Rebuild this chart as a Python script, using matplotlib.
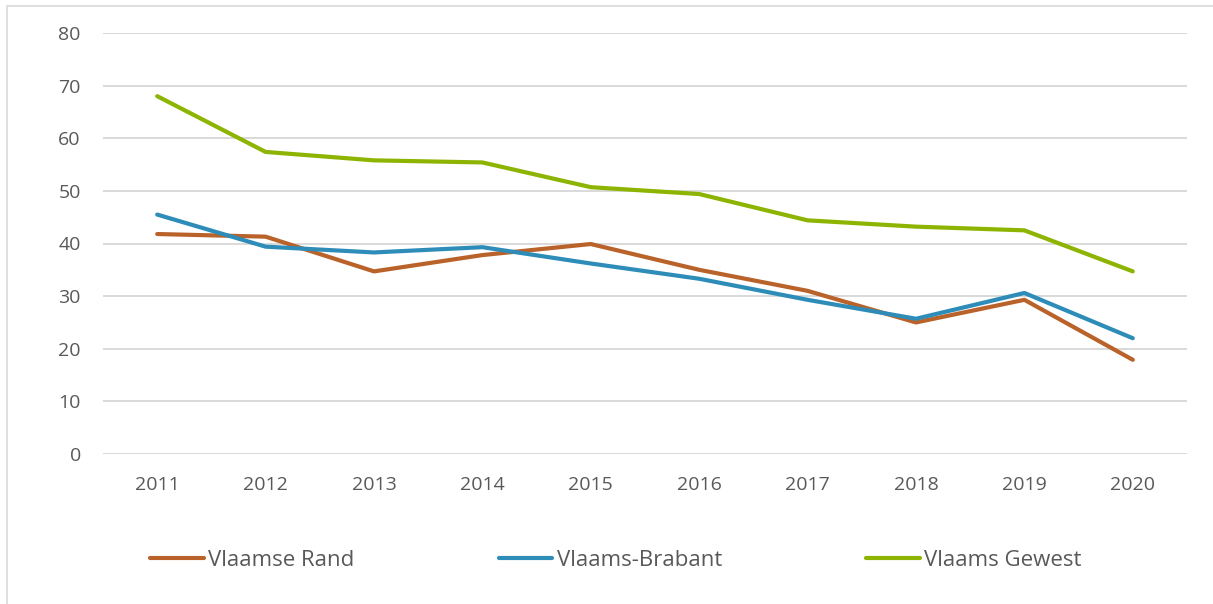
import matplotlib.pyplot as plt
from matplotlib.patches import Rectangle

plt.rcParams['font.family'] = ['Open Sans', 'DejaVu Sans']

# Data
years = ['2011', '2012', '2013', '2014', '2015', '2016', '2017', '2018', '2019', '2020']
vlaamse_rand = [41.8, 41.3, 34.7, 37.8, 39.9, 35.0, 31.0, 25.0, 29.3, 17.9]
vlaams_brabant = [45.5, 39.4, 38.3, 39.3, 36.2, 33.3, 29.3, 25.7, 30.6, 22.0]
vlaams_gewest = [68.0, 57.4, 55.8, 55.4, 50.7, 49.4, 44.4, 43.2, 42.5, 34.7]

series = [
    ('Vlaamse Rand', vlaamse_rand, '#B9622A'),
    ('Vlaams-Brabant', vlaams_brabant, '#2D8DB8'),
    ('Vlaams Gewest', vlaams_gewest, '#8DB400'),
]

W, H = 1213, 604
fig = plt.figure(figsize=(W / 100, H / 100), dpi=100)
ax = fig.add_axes([103 / W, 1 - 454 / H, (1187 - 103) / W, (454 - 33) / H])

x = range(len(years))
for name, vals, col in series:
    ax.plot(x, vals, color=col, lw=3, label=name, solid_capstyle='round',
            solid_joinstyle='round')

ax.set_xlim(-0.5, len(years) - 0.5)
ax.set_ylim(0, 80)
ax.set_yticks(range(0, 81, 10))
ax.set_xticks(list(x))
ax.set_xticklabels(years)
ax.grid(axis='y', color='#D9D9D9', lw=1.4)
ax.set_axisbelow(True)
for s in ax.spines.values():
    s.set_visible(False)
ax.tick_params(axis='both', length=0, labelsize=14, labelcolor='#595959')
ax.tick_params(axis='y', pad=16)
ax.tick_params(axis='x', pad=16)

fig.legend(loc='center', bbox_to_anchor=(616 / W, 1 - 560 / H), ncol=3,
           frameon=False, fontsize=16, labelcolor='#595959',
           handlelength=2.4, handletextpad=0.2, columnspacing=6.5)

# chart-area border
fig.patches.append(Rectangle((7 / W, -0.1), 1.2, 1 - 6 / H + 0.1,
                             transform=fig.transFigure, fill=False,
                             edgecolor='#D9D9D9', lw=1.2))

fig.savefig('out.png', dpi=100)
